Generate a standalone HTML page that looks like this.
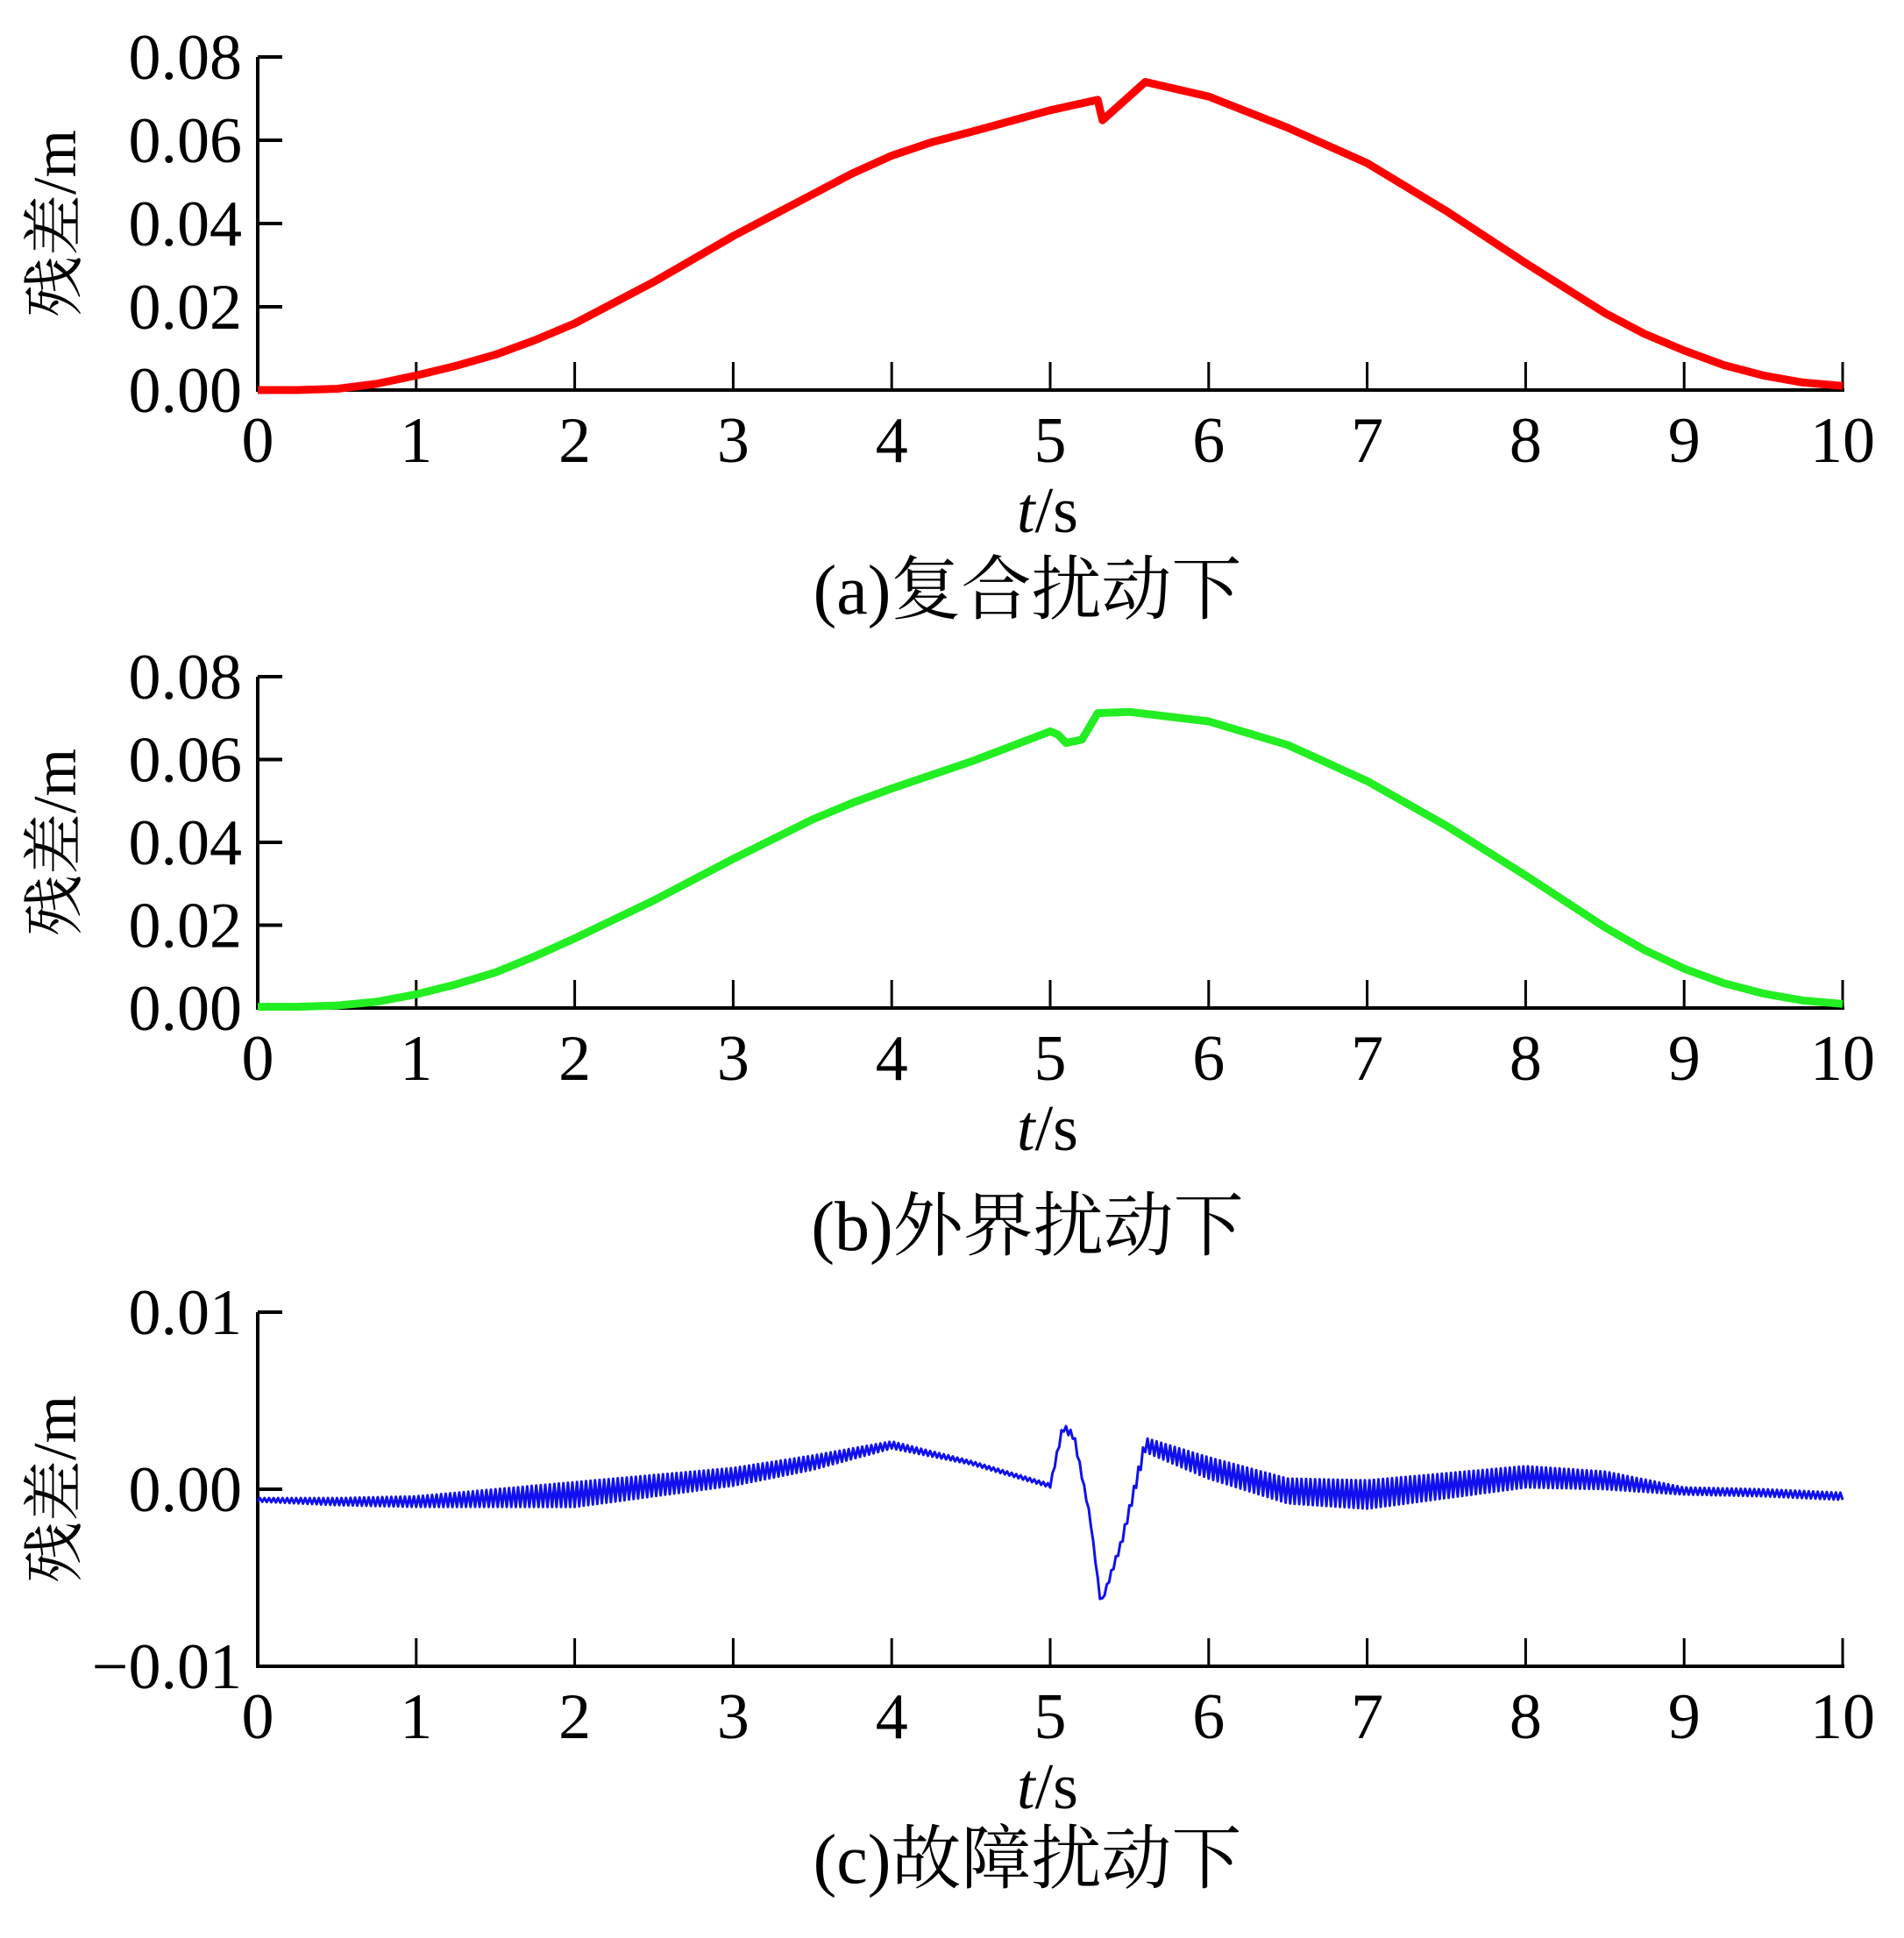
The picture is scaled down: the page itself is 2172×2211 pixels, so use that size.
<!DOCTYPE html>
<html><head><meta charset="utf-8">
<style>
html,body{margin:0;padding:0;background:#fff;}
svg{display:block;}
text{font-family:"Liberation Serif","Noto Serif CJK SC","Noto Sans CJK SC",serif;fill:#000;}
</style></head>
<body>
<svg id="fig" width="2172" height="2211" viewBox="0 0 2172 2211" xmlns="http://www.w3.org/2000/svg"></svg>
<script>
// ---- data ----
const xTicks = [0,1,2,3,4,5,6,7,8,9,10];
const yTicksAB = [0.00,0.02,0.04,0.06,0.08];
const yTickLabelsAB = ["0.00","0.02","0.04","0.06","0.08"];
const yTicksC = [-0.01,0.00,0.01];
const yTickLabelsC = ["\u22120.01","0.00","0.01"];

const tA = [0,0.25,0.5,0.75,1,1.25,1.5,1.75,2,2.5,3,3.5,3.75,4,4.25,4.5,5,5.3,5.33,5.6,6,6.5,7,7.5,8,8.5,8.75,9,9.25,9.5,9.75,10];
const vA = [0,0,0.0003,0.0015,0.0035,0.0058,0.0085,0.012,0.016,0.026,0.037,0.047,0.052,0.0563,0.0595,0.062,0.0672,0.0697,0.0648,0.074,0.0705,0.063,0.0545,0.043,0.0305,0.0185,0.0135,0.0095,0.006,0.0035,0.0018,0.001];

const tB = [0,0.25,0.5,0.75,1,1.25,1.5,1.75,2,2.5,3,3.5,3.75,4,4.5,5,5.05,5.1,5.2,5.3,5.5,6,6.5,7,7.5,8,8.5,8.75,9,9.25,9.5,9.75,10];
const vB = [0.0003,0.0003,0.0006,0.0015,0.0033,0.0057,0.0086,0.0125,0.0168,0.026,0.036,0.0455,0.0495,0.053,0.0595,0.0668,0.066,0.064,0.0648,0.0712,0.0715,0.0692,0.0635,0.0548,0.044,0.032,0.0195,0.014,0.0095,0.006,0.0035,0.0018,0.001];

// panel (c): centre line and noise band half-width
const tC = [0,0.5,1,1.5,2,2.5,3,3.5,4,4.5,5,5.08,5.15,5.25,5.32,5.45,5.6,6,6.5,7,7.5,8,8.5,9,9.5,10];
const vC = [-0.0006,-0.0007,-0.0007,-0.0005,-0.0003,0.0002,0.0007,0.0015,0.0025,0.0015,0.0002,0.0035,0.003,-0.0015,-0.0065,-0.003,0.0025,0.0012,-0.0001,-0.0003,0.0002,0.0007,0.0005,-0.0001,-0.0002,-0.0004];
const bandC = [0.0001,0.0002,0.0003,0.0005,0.0007,0.0006,0.0005,0.0004,0.0002,0.0001,0.0001,0.0002,0.0002,0.0001,0.0001,0.0002,0.0004,0.0006,0.0007,0.0008,0.0007,0.0006,0.0005,0.0002,0.0002,0.0002];

// ---- drawing ----
const NS="http://www.w3.org/2000/svg";
const svg=document.getElementById('fig');
function mk(tag,attrs,parent){const e=document.createElementNS(NS,tag);for(const k in attrs)e.setAttribute(k,attrs[k]);(parent||svg).appendChild(e);return e;}
const X0=294, X1=2102;
function xs(t){return X0+(X1-X0)*t/10;}
function interp(ts,vs,t){for(let i=1;i<ts.length;i++){if(t<=ts[i]){const f=(t-ts[i-1])/(ts[i]-ts[i-1]);return vs[i-1]+f*(vs[i]-vs[i-1]);}}return vs[vs.length-1];}

function panel(id,top,bottom,ymin,ymax,yt,ytl,caption,captionY){
  const g=mk('g',{});
  
  
  const ysc=v=>bottom-(bottom-top)*(v-ymin)/(ymax-ymin);
  const yAx=mk('line',{x1:X0,y1:top,x2:X0,y2:bottom,stroke:'#000','stroke-width':4},g);
  
  
  const xAx=mk('line',{x1:X0-2,y1:bottom,x2:X1+2,y2:bottom,stroke:'#000','stroke-width':4},g);
  
  
  yt.forEach((v,i)=>{
    const y=ysc(v);
    mk('line',{x1:X0,y1:y,x2:X0+28,y2:y,stroke:'#000','stroke-width':4},g);
    const tx=mk('text',{x:276,y:y+25,'font-size':74,'text-anchor':'end'},g);
    tx.textContent=ytl[i];
    
    
  });
  xTicks.forEach(t=>{
    const x=xs(t);
    if(t>0) mk('line',{x1:x,y1:bottom,x2:x,y2:bottom-32,stroke:'#000','stroke-width':3},g);
    const tx=mk('text',{x:x,y:bottom+82,'font-size':74,'text-anchor':'middle'},g);
    tx.textContent=String(t);
    
    
  });
  const xt=mk('text',{x:1195,y:bottom+162,'font-size':74,'text-anchor':'middle'},g);
  xt.innerHTML='<tspan font-style="italic">t</tspan>/s';
  
  
  const ytt=mk('text',{x:0,y:0,'font-size':70,'text-anchor':'middle',transform:`translate(86 ${(top+bottom)/2}) rotate(-90)`},g);
  ytt.textContent='残差/m';
  
  
  const cap=mk('text',{x:1172,y:captionY,'font-size':80,'text-anchor':'middle'},g);
  cap.textContent=caption;
  
  
  return {g,ysc};
}

// panel a
let P=panel('a',65,445,0,0.08,yTicksAB,yTickLabelsAB,'(a)复合扰动下',700);
let pa=mk('path',{d:tA.map((t,i)=>(i?'L':'M')+xs(t).toFixed(1)+' '+P.ysc(vA[i]).toFixed(1)).join(''),fill:'none',stroke:'#ff0000','stroke-width':9,'stroke-linejoin':'round'},P.g);



// panel b
P=panel('b',772,1150,0,0.08,yTicksAB,yTickLabelsAB,'(b)外界扰动下',1426);
let pb=mk('path',{d:tB.map((t,i)=>(i?'L':'M')+xs(t).toFixed(1)+' '+P.ysc(vB[i]).toFixed(1)).join(''),fill:'none',stroke:'#22ee22','stroke-width':9,'stroke-linejoin':'round'},P.g);



// panel c
P=panel('c',1497,1901,-0.01,0.01,yTicksC,yTickLabelsC,'(c)故障扰动下',2148);
let d='';
const N=700;
for(let k=0;k<=N;k++){
  const t=10*k/N;
  const c=interp(tC,vC,t), b=interp(tC,bandC,t);
  const v=c+(k%2?b:-b);
  d+=(k?'L':'M')+xs(t).toFixed(1)+' '+P.ysc(v).toFixed(1);
}
let pc=mk('path',{d:d,fill:'none',stroke:'#1010ee','stroke-width':3,'stroke-linejoin':'round'},P.g);


</script>
</body></html>
